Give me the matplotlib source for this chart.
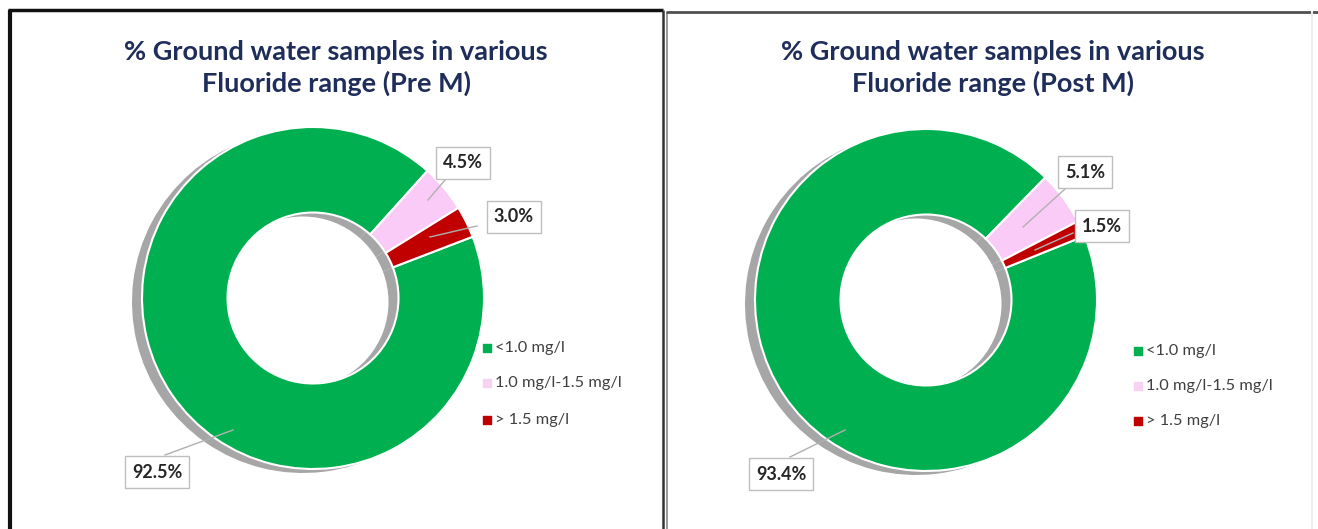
import matplotlib.pyplot as plt

W, H = 1318, 529

categories = ['<1.0 mg/l', '1.0 mg/l-1.5 mg/l', '> 1.5 mg/l']
pre_monsoon = [92.5, 4.5, 3.0]
post_monsoon = [93.4, 5.1, 1.5]
titles = ['% Ground water samples in various\nFluoride range (Pre M)',
          '% Ground water samples in various\nFluoride range (Post M)']

colors = ['#00B050', '#FBCBF7', '#C00000']
legend_colors = ['#00B050', '#F6D3F2', '#C00000']
shadow_color = '#A6A6A6'
title_color = '#1F2D5A'

plt.rcParams['font.family'] = ['Lato', 'DejaVu Sans']

fig = plt.figure(figsize=(W / 100, H / 100), dpi=100)
ax = fig.add_axes([0, 0, 1, 1])


def Y(y):
    """Top-down pixel row to axis y."""
    return H - y


panels = [
    dict(values=pre_monsoon, title=titles[0], center=(313, 298), R=171, start=21,
         title_x=336,
         labels=[((157, 472), (233, 430), (165, 455)),
                 ((463, 163), (428, 200), (445, 180)),
                 ((514, 217), (430, 237), (477, 226))],
         legend_x=487, legend_y=[348, 383, 420]),
    dict(values=post_monsoon, title=titles[1], center=(926, 300), R=171, start=22,
         title_x=993,
         labels=[((781, 474), (845, 430), (790, 457)),
                 ((1085, 172), (1023, 227), (1065, 189)),
                 ((1102, 226), (1035, 250), (1073, 233))],
         legend_x=1138, legend_y=[351, 386, 421]),
]

for p in panels:
    cx, cy = p['center']
    R = p['R']
    # drop shadow under the ring
    ax.pie(p['values'], center=(cx - 10, Y(cy) - 4), radius=R, colors=[shadow_color] * 3,
           startangle=p['start'], counterclock=False,
           wedgeprops=dict(width=R * 0.5, linewidth=0))
    ax.pie(p['values'], center=(cx, Y(cy)), radius=R, colors=colors,
           startangle=p['start'], counterclock=False,
           wedgeprops=dict(width=R * 0.5, edgecolor='white', linewidth=1.5))

    ax.text(p['title_x'], Y(68), p['title'], ha='center', va='center',
            fontsize=19.5, fontweight='bold', color=title_color, linespacing=1.3)

    for v, (box, anchor, start) in zip(p['values'], p['labels']):
        ax.plot([start[0], anchor[0]], [Y(start[1]), Y(anchor[1])],
                color='#B0B0B0', lw=1, zorder=4)
        ax.text(box[0], Y(box[1]), f'{v:.1f}%', ha='center', va='center',
                fontsize=13, fontweight='bold', color='#262626', zorder=5,
                bbox=dict(boxstyle='square,pad=0.4', facecolor='white',
                          edgecolor='#BFBFBF', lw=1))

    for name, c, ly in zip(categories, legend_colors, p['legend_y']):
        ax.scatter([p['legend_x']], [Y(ly)], marker='s', s=30, color=c, zorder=5)
        ax.text(p['legend_x'] + 8, Y(ly), name, ha='left', va='center',
                fontsize=11.8, color='#404040')

# panel frames
ax.plot([9.5, 9.5], [Y(529), Y(10)], color='#111111', lw=3, solid_capstyle='butt')
ax.plot([8, 663], [Y(10), Y(10)], color='#111111', lw=2.5, solid_capstyle='butt')
ax.plot([662.5, 662.5], [Y(529), Y(10)], color='#333333', lw=1.8, solid_capstyle='butt')
ax.plot([666.5, 666.5], [Y(529), Y(11.5)], color='#8A8A8A', lw=1.2, solid_capstyle='butt')
ax.plot([666, 1318], [Y(11.5), Y(11.5)], color='#505050', lw=2, solid_capstyle='butt')
ax.plot([1311.5, 1311.5], [Y(529), Y(11.5)], color='#EEEEEE', lw=1.5)

ax.set_xlim(0, W)
ax.set_ylim(0, H)
ax.set_aspect('auto')
ax.axis('off')

fig.savefig('out.png', dpi=100)
